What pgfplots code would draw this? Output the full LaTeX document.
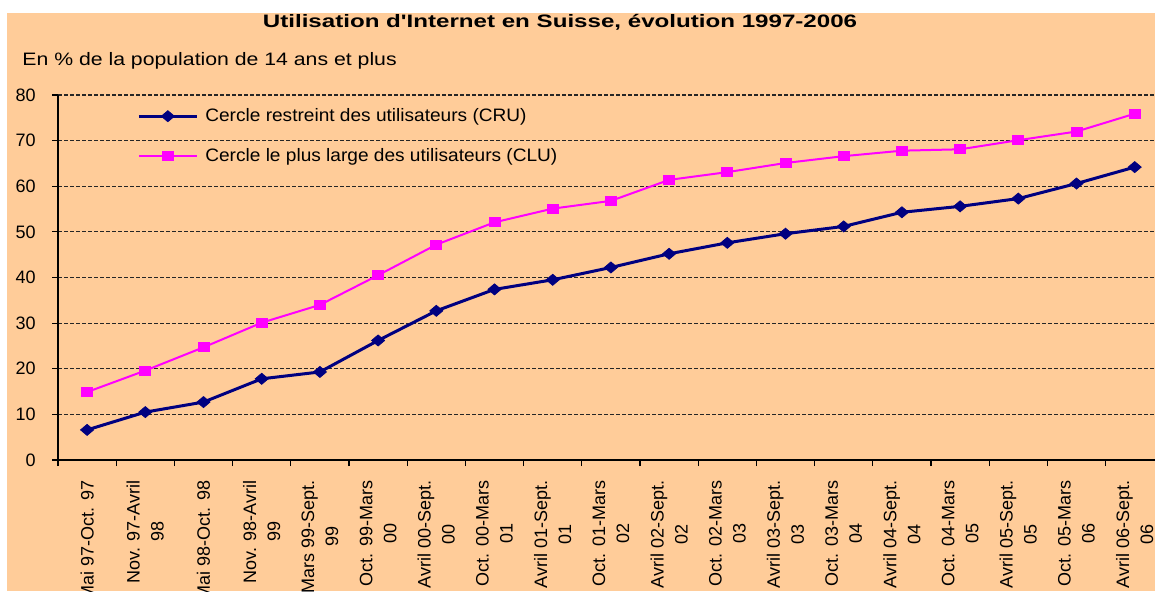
\documentclass[border=0pt]{standalone}
\usepackage{pgfplots}
\pgfplotsset{compat=1.18}
\usepackage{pgfplotstable}
\usepackage{fontspec}
\setmainfont{Liberation Sans}
\newfontfamily\titlefont[FakeStretch=1.34]{Liberation Sans}
\newfontfamily\subfont[FakeStretch=1.18]{Liberation Sans}
\newfontfamily\legfont[FakeStretch=1.06]{Liberation Sans}
\definecolor{peach}{RGB}{255,204,153}
\definecolor{cru}{RGB}{0,0,128}
\definecolor{clu}{RGB}{255,0,255}
\pgfplotstableread{
x cru clu
0 6.6 14.9
1 10.5 19.6
2 12.7 24.7
3 17.8 30.1
4 19.3 34.0
5 26.2 40.5
6 32.7 47.2
7 37.4 52.1
8 39.5 55.1
9 42.2 56.8
10 45.2 61.4
11 47.6 63.1
12 49.6 65.1
13 51.2 66.6
14 54.3 67.8
15 55.6 68.1
16 57.3 70.1
17 60.6 72.0
18 64.2 75.9
}\data
\begin{document}
\begin{tikzpicture}
\useasboundingbox (0,0) rectangle (577.5pt,-295.5pt);
\clip (0,0) rectangle (577.5pt,-295.5pt);
\fill[white] (0,0) rectangle (577.5pt,-295.5pt);
\fill[peach] (3.5pt,-6.5pt) rectangle (577.5pt,-295.5pt);
\node[anchor=base, inner sep=0pt, font=\titlefont\bfseries\fontsize{9}{11}\selectfont] at (280pt,-13.5pt) {Utilisation d'Internet en Suisse, évolution 1997-2006};
\node[anchor=base west, inner sep=0pt, font=\subfont\fontsize{9}{11}\selectfont] at (11pt,-32.5pt) {En \% de la population de 14 ans et plus};
\begin{axis}[
  at={(29pt,-230pt)}, anchor=south west,
  scale only axis, width=552.9pt, height=182.5pt,
  xmin=-0.5, xmax=18.5, ymin=0, ymax=80,
  axis x line=bottom, axis y line=left,
  axis line style={-, black, line width=0.6pt},
  ytick={0,10,...,80},
  ymajorgrids,
  grid style={black!85, dash pattern=on 2pt off 1pt, line width=0.6pt},
  xtick={0,...,18},
  minor xtick={-0.5,0.5,...,18.5},
  major x tick style={draw=none},
  tick align=outside,
  major tick length=3pt, minor tick length=3pt,
  tick style={black, line width=0.6pt},
  xticklabels={{Mai 97-Oct. 97},{Nov. 97-Avril\\98},{Mai 98-Oct. 98},{Nov. 98-Avril\\99},{Mars 99-Sept.\\99},{Oct. 99-Mars\\00},{Avril 00-Sept.\\00},{Oct. 00-Mars\\01},{Avril 01-Sept.\\01},{Oct. 01-Mars\\02},{Avril 02-Sept.\\02},{Oct. 02-Mars\\03},{Avril 03-Sept.\\03},{Oct. 03-Mars\\04},{Avril 04-Sept.\\04},{Oct. 04-Mars\\05},{Avril 05-Sept.\\05},{Oct. 05-Mars\\06},{Avril 06-Sept.\\06}},
  xticklabel style={rotate=90, anchor=east, align=center, font=\fontsize{9}{12}\selectfont, inner sep=0pt, xshift=-7pt},
  yticklabel style={font=\fontsize{9}{11}\selectfont, inner sep=0pt, xshift=-8pt},
  /pgf/number format/assume math mode=true,
  legend style={at={(0.0714,0.965)}, anchor=north west, draw=none, fill=none, inner sep=0pt, row sep=12pt,
    font=\legfont\fontsize{9}{11}\selectfont, nodes={inner sep=0pt},
    /tikz/every odd column/.append style={column sep=3.5pt}},
  legend cell align=left,
  legend image code/.code={\draw[mark repeat=2,mark phase=2,#1] plot coordinates {(0pt,0pt) (14.5pt,0pt) (29pt,0pt)};},
]
\addplot[color=cru, line width=1.5pt, mark=diamond*, mark size=2.75pt, mark options={xscale=1.58, solid, fill=cru, line width=0.4pt}] table[x=x,y=cru]{\data};
\addplot[color=clu, line width=1pt, mark=square*, mark size=2.25pt, mark options={xscale=1.22, solid, fill=clu, line width=0.4pt}] table[x=x,y=clu]{\data};
\legend{Cercle restreint des utilisateurs (CRU), Cercle le plus large des utilisateurs (CLU)}
\end{axis}
\end{tikzpicture}
\end{document}
